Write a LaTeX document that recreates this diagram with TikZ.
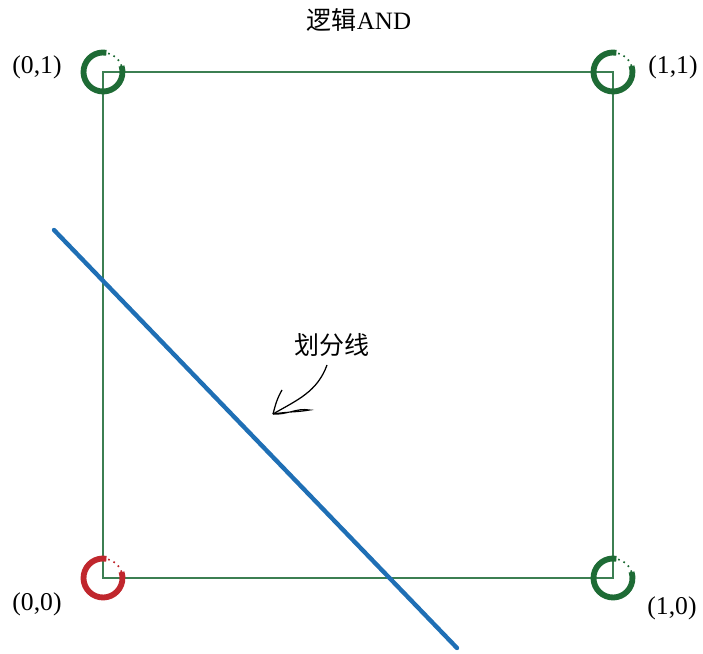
\documentclass[tikz,border=0pt]{standalone}
\usepackage{fontspec}
\setmainfont{Liberation Serif}
\newfontfamily\cjk{Noto Sans CJK SC}
\usetikzlibrary{arrows.meta, positioning}

\definecolor{ringgreen}{HTML}{1E6B35}
\definecolor{boxgreen}{HTML}{3C7F52}
\definecolor{ringred}{HTML}{C0272D}
\definecolor{lineblue}{HTML}{1F6FB5}

\begin{document}
\begin{tikzpicture}[
    x=0.48pt, y=0.48pt,
    ptlabel/.style={font=\fontsize{12.3}{14}\selectfont, inner sep=1pt},
    cjklabel/.style={font=\fontsize{12}{14}\selectfont\cjk, inner sep=1pt},
    ring/.style={line width=2.8pt},
    ringtail/.style={line width=0.8pt, dotted}
]
\useasboundingbox (0,0) rectangle (703,653);

% Corners of the unit square
\coordinate (p00) at (103,75);
\coordinate (p10) at (613,75);
\coordinate (p11) at (613,581);
\coordinate (p01) at (103,581);

% Square
\draw[boxgreen, line width=0.75pt] (p00) -- (p10) -- (p11) -- (p01) -- cycle;

% Title
\node[cjklabel] (title) at (359,633) {逻辑\rmfamily AND};

% Corner labels
\node[ptlabel] (l01) at (37,586) {(0,1)};
\node[ptlabel] (l11) at (673,586) {(1,1)};
\node[ptlabel] (l00) at (37,49) {(0,0)};
\node[ptlabel] (l10) at (672,45) {(1,0)};

% Hand drawn rings at the corners
\foreach \c/\col in {p01/ringgreen, p11/ringgreen, p10/ringgreen, p00/ringred} {
    \draw[ring, \col] ([shift={(80:19.5)}]\c) arc[start angle=80, end angle=378, radius=19.5];
    \draw[ringtail, \col] ([shift={(18:19.5)}]\c) arc[start angle=18, end angle=80, radius=19.5];
}

% Dividing line
\coordinate (div1) at (54,423);
\coordinate (div2) at (457,5);
\draw[lineblue, line width=2.1pt, line cap=round] (div1) -- (div2);

% Label with hand drawn arrow
\node[cjklabel] (divlbl) at (332,308) {划分线};
\coordinate (arrstart) at (327,288);
\coordinate (tip) at (273,239);
\coordinate (barbup) at (282,263);
\coordinate (barbright) at (310,243);
\draw[line width=0.6pt] (arrstart) to[out=-110, in=30] (tip);
\draw[line width=0.6pt] (tip) to[out=75, in=-120] (barbup);
\draw[line width=0.5pt] (tip) to[out=10, in=190] (barbright)
    to[out=170, in=-5] (tip);

\end{tikzpicture}
\end{document}
